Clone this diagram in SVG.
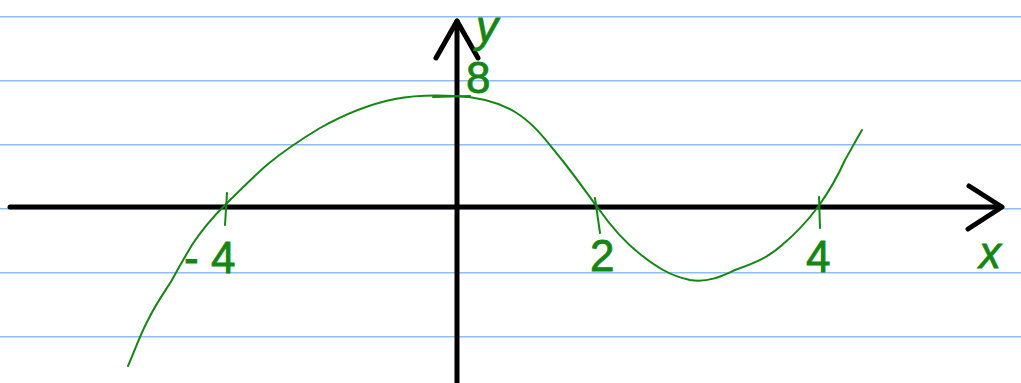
<svg xmlns="http://www.w3.org/2000/svg" width="1021" height="383" viewBox="0 0 1021 383">
<style>
.rule{stroke:#8fbdf2;stroke-width:1.6;fill:none}
.axis{stroke:#000;stroke-width:5;fill:none;stroke-linecap:round;stroke-linejoin:round}
.ink{stroke:#138613;stroke-width:2;fill:none;stroke-linecap:round;stroke-linejoin:round}
.lbl{fill:#138613;stroke:#138613;stroke-width:0.8;font-family:"Liberation Sans",Arial,sans-serif;font-size:44px}
</style>
<rect width="1021" height="383" fill="#fff"/>
<g id="rules">
<line class="rule" x1="0" y1="16.7" x2="1021" y2="16.7"/>
<line class="rule" x1="0" y1="80.7" x2="1021" y2="80.7"/>
<line class="rule" x1="0" y1="144.7" x2="1021" y2="144.7"/>
<line class="rule" x1="0" y1="208.7" x2="1021" y2="208.7"/>
<line class="rule" x1="0" y1="272.7" x2="1021" y2="272.7"/>
<line class="rule" x1="0" y1="336.7" x2="1021" y2="336.7"/>
</g>
<g id="connectors">
<g id="x-axis">
<path class="axis" d="M10,207 H1001"/>
<path class="axis" d="M969,186 L1002,207 L968,229"/>
</g>
<g id="y-axis">
<path class="axis" d="M457,383 V21"/>
<path class="axis" d="M436,58 L457,21 L478,58"/>
</g>
</g>
<g id="curve">
<path class="ink" d="M128,366 C135,350 140,335 148,320 C158,300 166,290 172,280 C180,265 186,255 192,245 C203,228 213,217 225,205 C240,190 255,175 268,164 C285,150 300,140 320,128 C345,114 370,104 395,99 C415,95 435,95 455,96 C480,97 500,103 515,112 C535,124 548,143 562,160 C578,180 588,195 598,208 C610,225 622,240 640,254 C655,266 670,276 690,280 C708,283 722,276 735,270 C752,264 768,258 782,245 C798,232 808,220 818,207 C830,190 838,176 845,160 C852,148 856,140 862,130"/>
</g>
<g id="ticks">
<path class="ink" d="M433,97 L470,96"/>
<path class="ink" d="M227,193 L225,225"/>
<path class="ink" d="M595,198 L600,233"/>
<path class="ink" d="M819,197 L820,228"/>
</g>
<g id="labels">
<text class="lbl" x="476" y="42" font-style="italic" font-size="46">y</text>
<text class="lbl" x="466" y="93" font-size="40">8</text>
<text class="lbl" x="184" y="273">-</text>
<text class="lbl" x="211" y="273">4</text>
<text class="lbl" x="590" y="271">2</text>
<text class="lbl" x="806" y="272">4</text>
<text class="lbl" x="979" y="268" font-family="Liberation Serif" font-style="italic" font-size="62">x</text>
</g>
</svg>
